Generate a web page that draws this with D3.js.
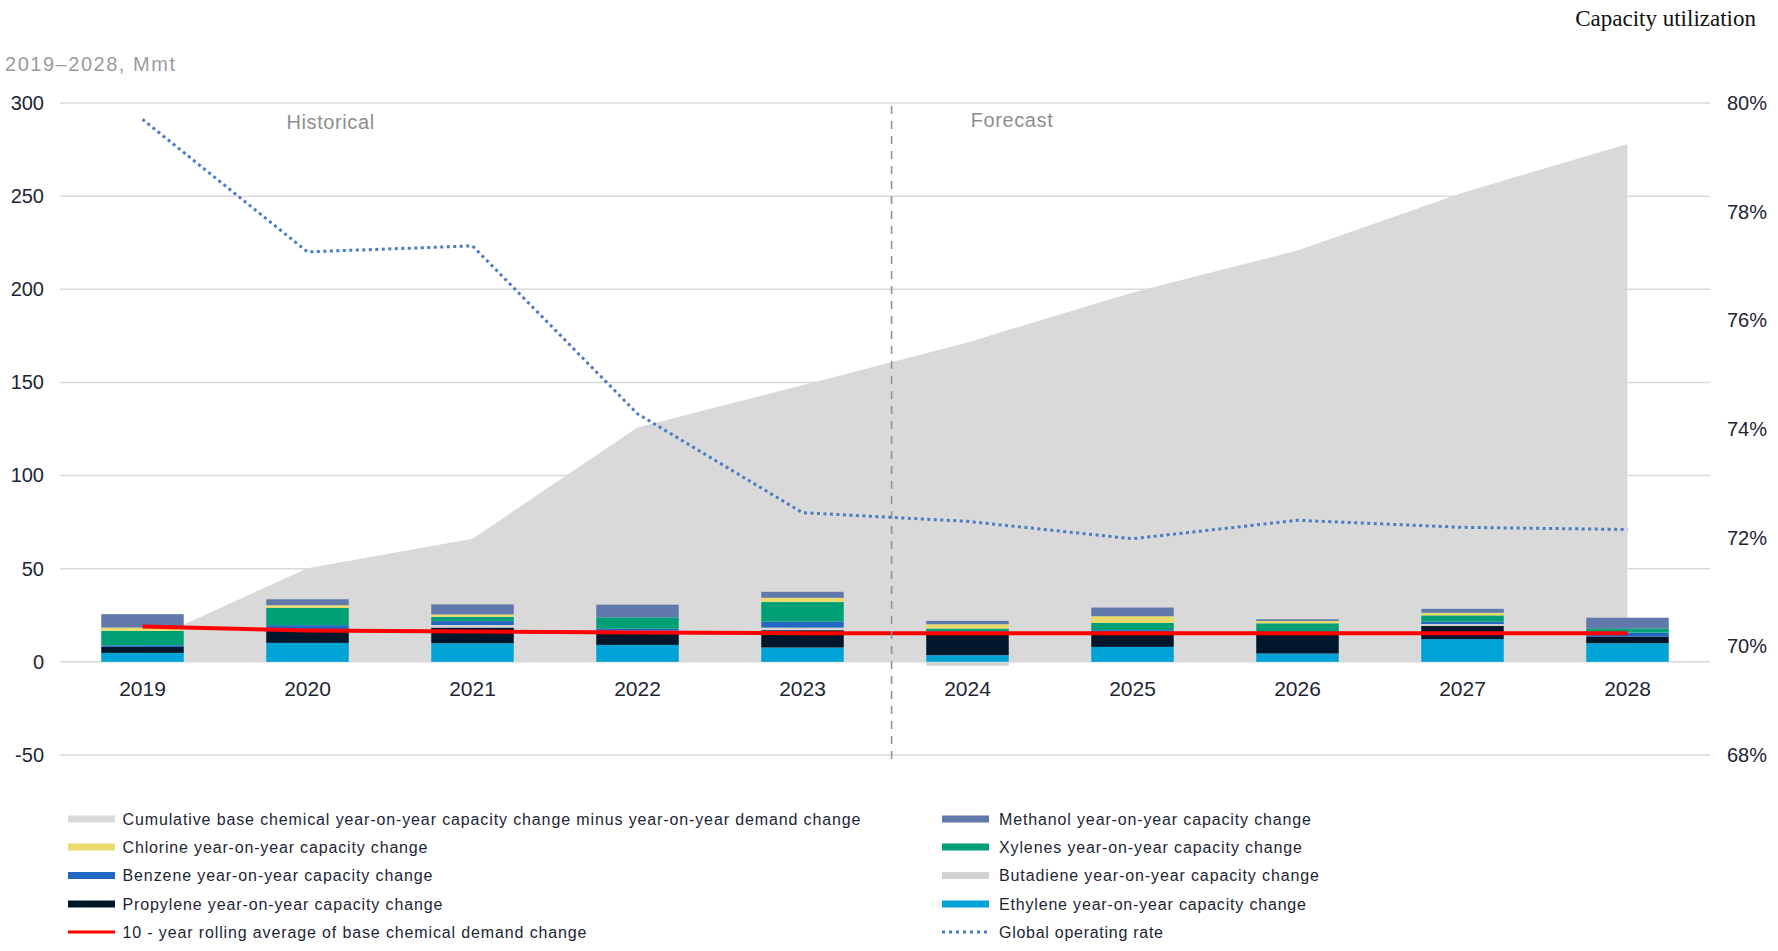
<!DOCTYPE html>
<html>
<head>
<meta charset="utf-8">
<script src="https://cdn.jsdelivr.net/npm/d3@7"></script>
<style>
  html, body { margin: 0; padding: 0; background: #fff; }
  svg { display: block; font-family: "Liberation Sans", Arial, sans-serif; }
</style>
</head>
<body>
<svg id="chart" width="1778" height="951"></svg>
<script>
// ---- data ----
const years = ["2019","2020","2021","2022","2023","2024","2025","2026","2027","2028"];

// year-on-year capacity change by chemical, Mmt
const ethylene  = [4.8, 10.2, 10.0, 9.1, 7.7, 3.6, 8.05, 4.5, 12.2, 10.0];
const propylene = [3.2, 6.8, 8.4, 6.6, 9.3, 12.2, 7.7, 10.7, 7.1, 3.6];
const butadiene = [0, 0, 1.4, 1.0, 1.4, -2.1, 0, 0, 1.0, 0];
const benzene   = [0.9, 2.7, 2.1, 1.1, 3.2, 0.6, 1.25, 0, 1.25, 2.1];
const xylenes   = [7.7, 9.3, 2.3, 6.1, 10.5, 1.5, 3.9, 5.5, 3.4, 2.3];
const chlorine  = [1.8, 1.4, 1.25, 0, 2.3, 2.3, 3.6, 1.25, 1.4, 0];
const methanol  = [7.2, 3.2, 5.4, 6.8, 3.2, 1.8, 4.65, 0.9, 2.1, 5.7];

// cumulative capacity change minus demand change, Mmt
const cumulativeGap = [10, 50.2, 66.1, 125.8, 148.5, 171.5, 198.3, 220.8, 251.8, 278];
// 10-year rolling average of demand change, Mmt
const rollingDemand = [19.0, 16.8, 16.3, 15.7, 15.4, 15.4, 15.4, 15.4, 15.4, 15.4];
// global operating rate, %
const operatingRate = [79.7, 77.26, 77.37, 74.28, 72.46, 72.30, 71.98, 72.32, 72.19, 72.15];

const leftTicks  = [-50, 0, 50, 100, 150, 200, 250, 300];
const rightTicks = [68, 70, 72, 74, 76, 78, 80];

const seriesKeys   = ["ethylene","propylene","butadiene","benzene","xylenes","chlorine","methanol"];
const seriesValues = { ethylene, propylene, butadiene, benzene, xylenes, chlorine, methanol };
const seriesColors = {
  ethylene: "#00a3d6", propylene: "#00172b", butadiene: "#d2d2d2", benzene: "#2168c2",
  xylenes: "#00a077", chlorine: "#e9dc6c", methanol: "#6079aa"
};

const forecastStart = 2023.54;
const periodLabels = [
  { text: "Historical", year: 2020.14, y: 129 },
  { text: "Forecast",   year: 2024.27, y: 127 }
];

const legendLeft = [
  { label: "Cumulative base chemical year-on-year capacity change minus year-on-year demand change", type: "bar", color: "#d9d9d9", w: 738 },
  { label: "Chlorine year-on-year capacity change", type: "bar", color: seriesColors.chlorine, w: 305 },
  { label: "Benzene year-on-year capacity change", type: "bar", color: seriesColors.benzene, w: 310 },
  { label: "Propylene year-on-year capacity change", type: "bar", color: seriesColors.propylene, w: 320 },
  { label: "10 - year rolling average of base chemical demand change", type: "line", color: "#ff0000", w: 464 }
];
const legendRight = [
  { label: "Methanol year-on-year capacity change", type: "bar", color: seriesColors.methanol, w: 312 },
  { label: "Xylenes year-on-year capacity change", type: "bar", color: seriesColors.xylenes, w: 303 },
  { label: "Butadiene year-on-year capacity change", type: "bar", color: seriesColors.butadiene, w: 320 },
  { label: "Ethylene year-on-year capacity change", type: "bar", color: seriesColors.ethylene, w: 307 },
  { label: "Global operating rate", type: "dot", color: "#4a7bc6", w: 164 }
];

// ---- layout ----
const svg = d3.select("#chart");
const plotLeft = 60, plotRight = 1710, plotTop = 103, plotBottom = 755;
const textColor = "#1d2535";

const x = d3.scaleBand().domain(years).range([plotLeft, plotRight]).paddingInner(0.5).paddingOuter(0.25);
const xc = d => x(d) + x.bandwidth() / 2;
const xYear = d3.scaleLinear().domain([2019, 2028]).range([xc("2019"), xc("2028")]);
const y = d3.scaleLinear().domain([-50, 300]).range([plotBottom, plotTop]);
const yR = d3.scaleLinear().domain([68, 80]).range([plotBottom, plotTop]);

// gridlines
svg.append("g").selectAll("line").data(leftTicks).join("line")
  .attr("x1", plotLeft).attr("x2", plotRight)
  .attr("y1", d => y(d)).attr("y2", d => y(d))
  .attr("stroke", "#d9d9d9").attr("stroke-width", 1.5);

// cumulative gap area
const areaData = years.map((yr, i) => ({ yr, v: cumulativeGap[i] }));
svg.append("path").datum(areaData)
  .attr("fill", "#d9d9d9")
  .attr("d", d3.area().x(d => xc(d.yr)).y0(y(0)).y1(d => y(d.v)));

// stacked capacity bars
const rows = years.map((yr, i) => {
  const r = { yr };
  seriesKeys.forEach(k => r[k] = seriesValues[k][i]);
  return r;
});
const stacked = d3.stack().keys(seriesKeys).offset(d3.stackOffsetDiverging)(rows);
svg.append("g").selectAll("g").data(stacked).join("g")
  .attr("fill", s => seriesColors[s.key])
  .selectAll("rect").data(s => s).join("rect")
  .attr("x", d => x(d.data.yr)).attr("width", x.bandwidth())
  .attr("y", d => y(Math.max(d[0], d[1])))
  .attr("height", d => Math.abs(y(d[0]) - y(d[1])));

// rolling demand average
svg.append("path").datum(years.map((yr, i) => ({ yr, v: rollingDemand[i] })))
  .attr("fill", "none").attr("stroke", "#ff0000").attr("stroke-width", 4)
  .attr("d", d3.line().x(d => xc(d.yr)).y(d => y(d.v)));

// forecast divider
svg.append("line")
  .attr("x1", xYear(forecastStart)).attr("x2", xYear(forecastStart))
  .attr("y1", plotTop + 3).attr("y2", plotBottom + 7)
  .attr("stroke", "#8696a8").attr("stroke-width", 1.6).attr("stroke-dasharray", "8,7");

svg.append("g").selectAll("text").data(periodLabels).join("text")
  .attr("x", d => xYear(d.year)).attr("y", d => d.y)
  .attr("text-anchor", "middle").attr("font-size", 20).attr("fill", "#8e8e8e")
  .attr("letter-spacing", 0.6)
  .text(d => d.text);

// operating rate
svg.append("path").datum(years.map((yr, i) => ({ yr, v: operatingRate[i] })))
  .attr("fill", "none").attr("stroke", "#4a7bc6").attr("stroke-width", 3)
  .attr("stroke-dasharray", "3,3.5")
  .attr("d", d3.line().x(d => xc(d.yr)).y(d => yR(d.v)));

// axes
const leftAxis = svg.append("g").attr("transform", `translate(${plotLeft - 16},0)`)
  .call(d3.axisLeft(y).tickValues(leftTicks).tickSize(0).tickPadding(0).tickFormat(d => String(d)));
const rightAxis = svg.append("g").attr("transform", `translate(1727,0)`)
  .call(d3.axisRight(yR).tickValues(rightTicks).tickSize(0).tickPadding(0).tickFormat(d => d + "%"));
const bottomAxis = svg.append("g").attr("transform", `translate(0,${y(0)})`)
  .call(d3.axisBottom(x).tickSize(0).tickPadding(19));
[leftAxis, rightAxis, bottomAxis].forEach(g => {
  g.select(".domain").remove();
  g.selectAll("text").attr("fill", textColor).attr("font-size", 20)
    .attr("font-family", "Liberation Sans, Arial, sans-serif");
});
bottomAxis.selectAll("text").attr("font-size", 21);

// titles
svg.append("text").attr("x", 5).attr("y", 71)
  .attr("font-size", 20).attr("fill", "#9b9b9b")
  .attr("textLength", 170).attr("lengthAdjust", "spacing")
  .text("2019–2028, Mmt");
svg.append("text").attr("x", 1756).attr("y", 26)
  .attr("text-anchor", "end").attr("font-size", 23).attr("fill", "#111")
  .attr("font-family", "Liberation Serif, 'Times New Roman', serif")
  .text("Capacity utilization");

// legend
const legendRowY = [819, 847, 875.5, 904, 932];
function drawLegend(items, swatchX, textX) {
  const g = svg.append("g");
  items.forEach((it, i) => {
    const cy = legendRowY[i];
    if (it.type === "bar") {
      g.append("rect").attr("x", swatchX).attr("y", cy - 3.5).attr("width", 47).attr("height", 7).attr("fill", it.color);
    } else if (it.type === "line") {
      g.append("line").attr("x1", swatchX).attr("x2", swatchX + 47).attr("y1", cy).attr("y2", cy)
        .attr("stroke", it.color).attr("stroke-width", 3);
    } else {
      g.append("line").attr("x1", swatchX).attr("x2", swatchX + 47).attr("y1", cy).attr("y2", cy)
        .attr("stroke", it.color).attr("stroke-width", 3).attr("stroke-dasharray", "3,4");
    }
    g.append("text").attr("x", textX).attr("y", cy + 5.5)
      .attr("font-size", 16).attr("fill", textColor)
      .attr("textLength", it.w).attr("lengthAdjust", "spacing")
      .text(it.label);
  });
}
drawLegend(legendLeft, 68, 122.5);
drawLegend(legendRight, 942, 999);
</script>
</body>
</html>
